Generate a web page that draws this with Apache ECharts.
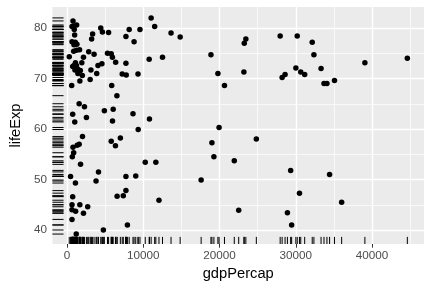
<!DOCTYPE html>
<html>
<head>
<meta charset="utf-8">
<script src="https://cdn.jsdelivr.net/npm/echarts@6/dist/echarts.min.js"></script>
<style>
html,body{margin:0;padding:0;background:#fff;}
#chart{width:432px;height:288px;}
</style>
</head>
<body>
<div id="chart"></div>
<script>
const gdpPercap = [
  772, 643, 862, 1247, 939, 990, 4411, 3344, 4630, 5440,
  3215, 8140, 7716, 8783, 9555, 11021, 11484, 13632, 14828, 643,
  1067, 1286, 900, 1633, 1222, 862, 2829, 3537, 283, 2148,
  5298, 5787, 5941, 6366, 7716, 4051, 4565, 1093, 900, 733,
  1222, 1376, 1029, 1929, 1736, 3125, 3884, 1415, 1993, 7227,
  7755, 3022, 1672, 604, 5851, 9298, 10764, 12513, 18866, 19779,
  20640, 6533, 1582, 2276, 4887, 6044, 8642, 733, 2533, 1003,
  5954, 10802, 19933, 9323, 2019, 5787, 6983, 6340, 1582, 1325,
  772, 862, 682, 1762, 18994, 10249, 11638, 19251, 21926, 4115,
  450, 1093, 3794, 7716, 9002, 733, 6559, 7369, 7716, 643,
  1672, 2701, 643, 1119, 2148, 643, 7909, 4758, 1196, 17580,
  12050, 22505, 23444, 23238, 27945, 30182, 32150, 32369, 23187, 30002,
  33307, 28202, 28588, 30646, 31160, 33693, 34079, 35069, 39056, 44624,
  24820, 29321, 34426, 30478, 36008, 28896, 29449
];
const lifeExp = [
  81.4, 80.3, 80.4, 80.6, 79.7, 78.6, 80.0, 78.8, 79.2, 79.1,
  77.8, 79.7, 78.3, 77.3, 79.7, 82.0, 80.3, 79.0, 78.2, 77.3,
  77.2, 76.8, 76.7, 75.7, 75.6, 75.4, 75.3, 74.8, 74.3, 74.2,
  75.0, 74.9, 74.2, 73.2, 73.0, 72.6, 72.9, 73.1, 72.6, 72.4,
  72.6, 71.9, 71.7, 73.1, 71.6, 71.7, 71.0, 71.0, 70.6, 70.9,
  70.7, 69.8, 69.5, 68.6, 68.6, 70.9, 73.8, 74.2, 74.7, 71.0,
  68.6, 66.6, 65.0, 64.4, 63.6, 63.9, 63.0, 62.9, 62.3, 61.4,
  61.6, 62.0, 60.3, 59.9, 58.5, 57.6, 58.2, 56.7, 57.0, 56.8,
  56.4, 55.3, 54.5, 53.0, 57.3, 53.4, 53.4, 54.5, 53.7, 51.5,
  50.6, 49.3, 49.7, 50.6, 50.7, 46.6, 46.7, 46.8, 47.8, 45.0,
  45.0, 44.6, 44.0, 43.7, 43.3, 42.1, 41.0, 40.0, 39.2, 49.9,
  45.9, 43.9, 77.8, 77.0, 78.4, 78.4, 77.2, 74.7, 71.3, 72.1,
  72.0, 70.2, 70.8, 71.3, 70.8, 69.0, 69.0, 69.6, 73.1, 74.0,
  58.0, 51.8, 51.0, 47.3, 45.5, 43.4, 41.0
];
const xMajor = [0, 10000, 20000, 30000, 40000];
const xMinor = [5000, 15000, 25000, 35000, 45000];
const yMajor = [40, 50, 60, 70, 80];
const yMinor = [45, 55, 65, 75];

const points = gdpPercap.map((g, i) => [g, lifeExp[i]]);
const FONT = "'Liberation Sans', Arial, Helvetica, sans-serif";

const gridLines = []
  .concat(xMinor.map(v => ({xAxis: v, lineStyle: {width: 0.7}})))
  .concat(yMinor.map(v => ({yAxis: v, lineStyle: {width: 0.7}})))
  .concat(xMajor.map(v => ({xAxis: v, lineStyle: {width: 1.4}})))
  .concat(yMajor.map(v => ({yAxis: v, lineStyle: {width: 1.4}})));

const chart = echarts.init(document.getElementById('chart'), null, {renderer: 'canvas'});
chart.setOption({
  animation: false,
  backgroundColor: '#ffffff',
  grid: {
    left: 45, right: 8, top: 7, bottom: 44,
    show: true, backgroundColor: '#EBEBEB', borderWidth: 0
  },
  xAxis: {
    type: 'value',
    min: -1929, max: 46810,
    name: 'gdpPercap',
    nameLocation: 'middle',
    nameGap: 20.5,
    nameTextStyle: {color: '#000', fontSize: 14.7, fontFamily: FONT},
    axisLine: {show: false},
    axisTick: {show: true, length: 3.7, customValues: xMajor, lineStyle: {color: '#333333', width: 1}},
    axisLabel: {customValues: xMajor, formatter: v => String(v), color: '#4D4D4D', fontSize: 11.7, fontFamily: FONT, margin: 6},
    splitLine: {show: false}
  },
  yAxis: {
    type: 'value',
    min: 37.23, max: 84.16,
    name: 'lifeExp',
    nameLocation: 'middle',
    nameRotate: 90,
    nameGap: 26,
    nameTextStyle: {color: '#000', fontSize: 14.7, fontFamily: FONT},
    axisLine: {show: false},
    axisTick: {show: true, length: 3.7, customValues: yMajor, lineStyle: {color: '#333333', width: 1}},
    axisLabel: {customValues: yMajor, formatter: v => String(v), color: '#4D4D4D', fontSize: 11.7, fontFamily: FONT, margin: 5.5},
    splitLine: {show: false}
  },
  series: [
    {
      type: 'scatter',
      data: [],
      z: 1,
      silent: true,
      markLine: {
        z: 1,
        silent: true,
        symbol: ['none', 'none'],
        label: {show: false},
        animation: false,
        lineStyle: {color: '#FFFFFF', type: 'solid'},
        data: gridLines
      }
    },
    {
      type: 'scatter',
      data: points,
      symbol: 'circle',
      symbolSize: 5.5,
      itemStyle: {color: '#000000', opacity: 1},
      z: 3,
      silent: true
    },
    {
      type: 'custom',
      data: points,
      z: 4,
      silent: true,
      clip: false,
      renderItem: function (params, api) {
        const cs = params.coordSys;
        const p = api.coord([api.value(0), api.value(1)]);
        const bottom = cs.y + cs.height;
        return {
          type: 'group',
          children: [
            {type: 'line', shape: {x1: cs.x, y1: p[1], x2: cs.x + cs.width * 0.03, y2: p[1]},
             style: {stroke: '#000', lineWidth: 1}},
            {type: 'line', shape: {x1: p[0], y1: bottom, x2: p[0], y2: bottom - cs.height * 0.03},
             style: {stroke: '#000', lineWidth: 1}}
          ]
        };
      }
    }
  ]
});
</script>
</body>
</html>
